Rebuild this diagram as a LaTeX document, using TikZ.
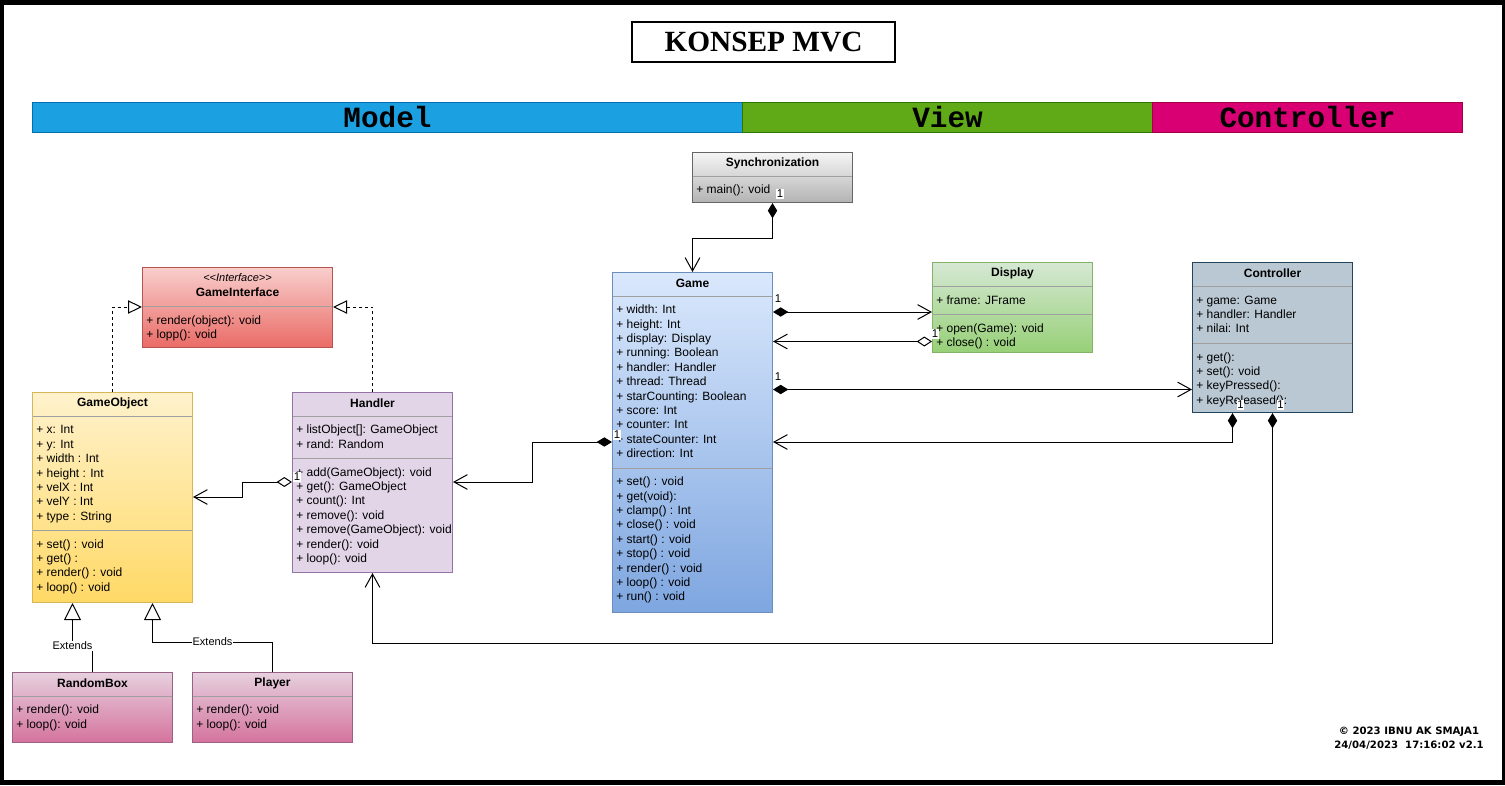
\documentclass[tikz,border=0pt]{standalone}
\usepackage{fontspec}
\setmainfont{Liberation Sans}
\newfontfamily\titlefont{Liberation Serif}
\newfontfamily\bandfont{Liberation Mono}
\newfontfamily\signfont{DejaVu Sans}
\usetikzlibrary{arrows.meta,calc,positioning}

\definecolor{sepgray}{HTML}{A0A0A0}
\definecolor{modelfill}{HTML}{1BA1E2}
\definecolor{modeldraw}{HTML}{006EAF}
\definecolor{viewfill}{HTML}{60A917}
\definecolor{viewdraw}{HTML}{2D7600}
\definecolor{ctrlfill}{HTML}{D80073}
\definecolor{ctrldraw}{HTML}{A50040}
\definecolor{syncTop}{HTML}{F5F5F5}
\definecolor{syncBot}{HTML}{B3B3B3}
\definecolor{syncDraw}{HTML}{666666}
\definecolor{gameTop}{HTML}{DAE8FC}
\definecolor{gameBot}{HTML}{7EA6E0}
\definecolor{gameDraw}{HTML}{6C8EBF}
\definecolor{dispTop}{HTML}{D5E8D4}
\definecolor{dispBot}{HTML}{97D077}
\definecolor{dispDraw}{HTML}{82B366}
\definecolor{ctrlBox}{HTML}{BAC8D3}
\definecolor{ctrlDraw}{HTML}{23445D}
\definecolor{gintTop}{HTML}{F8CECC}
\definecolor{gintBot}{HTML}{EA6B66}
\definecolor{gintDraw}{HTML}{B85450}
\definecolor{gobjTop}{HTML}{FFF2CC}
\definecolor{gobjBot}{HTML}{FFD966}
\definecolor{gobjDraw}{HTML}{D6B656}
\definecolor{handFill}{HTML}{E1D5E7}
\definecolor{handDraw}{HTML}{9673A6}
\definecolor{subTop}{HTML}{E6D0DE}
\definecolor{subBot}{HTML}{D5739D}
\definecolor{subDraw}{HTML}{996185}

\tikzset{
	cls/.style={draw, line width=0.75pt, anchor=north west, minimum width=120pt, inner sep=0pt},
	head/.style={inner sep=0pt, font=\bfseries\fontsize{9}{10}\selectfont},
	member/.style={anchor=west, inner sep=0pt, font=\fontsize{9}{10}\selectfont, text height=6.6pt, text depth=1.9pt},
	sepline/.style={draw=sepgray, line width=0.75pt},
	mult/.style={fill=white, inner sep=0.6pt, font=\fontsize{8.5}{8.5}\selectfont},
	band/.style={draw, line width=0.75pt, anchor=north west, minimum height=22.5pt, inner sep=0pt, font=\bandfont\bfseries\fontsize{22}{22}\selectfont},
	comp/.style={line width=0.75pt, {Diamond[length=11.5pt,width=7pt]}-{Straight Barb[length=10pt,width=11pt]}},
	aggr/.style={line width=0.75pt, {Diamond[fill=white,length=11.5pt,width=7.5pt]}-{Straight Barb[length=10pt,width=11pt]}},
	realize/.style={line width=0.75pt, dash pattern=on 2.25pt off 2.25pt, -{Triangle[fill=white,length=10.5pt,width=10pt]}},
	extend/.style={line width=0.75pt, -{Triangle[fill=white,length=12.75pt,width=12.75pt]}},
	extlabel/.style={fill=white, inner sep=0.6pt, font=\fontsize{8.25}{9}\selectfont},
}

% member lines of a class: node, prefix, first offset, list
\newcommand\members[4]{%
	\foreach \m [count=\i from 0] in {#4}
	\node[member] (#1-#2\i) at ($(#1.north west)+(4,#3+1.5+14.4*\i)$) {\m};}
% separator line of a class
\newcommand\sepat[2]{\draw[sepline] ($(#1.north west)+(1,#2)$) -- ($(#1.north east)+(-1,#2)$);}

\begin{document}
\begin{tikzpicture}[x=0.75pt,y=-0.75pt]
%Rahmen
\path[use as bounding box] (0,0) rectangle (1505,785);
\fill[black] (0,0) rectangle (1505,785);
\fill[white] (4,5) rectangle (1501.5,780);

%Titel
\node[draw, line width=1.2pt, minimum width=197pt, minimum height=30pt, inner sep=0pt, font=\titlefont\bfseries\fontsize{22}{22}\selectfont] (title) at (763.5,42) {KONSEP MVC};
\node[band, fill=modelfill, draw=modeldraw, minimum width=532.5pt] (model) at (32,102) {Model};
\node[band, fill=viewfill, draw=viewdraw, minimum width=307.5pt] (view) at (742,102) {View};
\node[band, fill=ctrlfill, draw=ctrldraw, minimum width=232.5pt] (ctrlband) at (1152,102) {Controller};

%Klassen
\node[cls, top color=syncTop, bottom color=syncBot, draw=syncDraw, minimum height=37.5pt] (sync) at (692,152) {};
\node[head] at ($(sync.north)+(0,11)$) {Synchronization};
\sepat{sync}{24}
\members{sync}{a}{37}{{+ main(): void}}

\node[cls, top color=gameTop, bottom color=gameBot, draw=gameDraw, minimum height=255pt] (game) at (612,272) {};
\node[head] at ($(game.north)+(0,11)$) {Game};
\sepat{game}{24}
\members{game}{a}{37}{{+ width: Int},{+ height: Int},{+ display: Display},{+ running: Boolean},{+ handler: Handler},{+ thread: Thread},{+ starCounting: Boolean},{+ score: Int},{+ counter: Int},{+ stateCounter: Int},{+ direction: Int}}
\sepat{game}{196}
\members{game}{m}{209}{{+ set() : void},{+ get(void):},{+ clamp() : Int},{+ close() : void},{+ start() : void},{+ stop() : void},{+ render() : void},{+ loop() : void},{+ run() : void}}

\node[cls, top color=dispTop, bottom color=dispBot, draw=dispDraw, minimum height=67.5pt] (display) at (932,262) {};
\node[head] at ($(display.north)+(0,11)$) {Display};
\sepat{display}{24}
\members{display}{a}{37.5}{{+ frame: JFrame}}
\sepat{display}{52}
\members{display}{m}{65.5}{{+ open(Game): void},{+ close() : void}}

\node[cls, fill=ctrlBox, draw=ctrlDraw, minimum height=112.5pt] (controller) at (1192,262) {};
\node[head] at ($(controller.north)+(0,11)$) {Controller};
\sepat{controller}{24}
\members{controller}{a}{37.5}{{+ game: Game},{+ handler: Handler},{+ nilai: Int}}
\sepat{controller}{81}
\members{controller}{m}{94.4}{{+ get():},{+ set(): void},{+ keyPressed():},{+ keyReleased():}}

\node[cls, top color=gintTop, bottom color=gintBot, draw=gintDraw, minimum width=142.5pt, minimum height=60pt] (gint) at (142,267) {};
\node[inner sep=0pt, font=\itshape\fontsize{8.25}{9}\selectfont] (gint-st) at ($(gint.north)+(0,11)$) {{<}{<}Interface{>}{>}};
\node[head] at ($(gint.north)+(0,25)$) {GameInterface};
\sepat{gint}{39.5}
\members{gint}{m}{52.7}{{+ render(object): void},{+ lopp(): void}}

\node[cls, top color=gobjTop, bottom color=gobjBot, draw=gobjDraw, minimum height=157.5pt] (gobj) at (32,392) {};
\node[head] at ($(gobj.north)+(0,11)$) {GameObject};
\sepat{gobj}{24}
\members{gobj}{a}{37.3}{{+ x: Int},{+ y: Int},{+ width : Int},{+ height : Int},{+ velX : Int},{+ velY : Int},{+ type : String}}
\sepat{gobj}{138.5}
\members{gobj}{m}{151.5}{{+ set() : void},{+ get() :},{+ render() : void},{+ loop() : void}}

\node[cls, fill=handFill, draw=handDraw, minimum height=135pt] (handler) at (292,392) {};
\node[head] at ($(handler.north)+(0,11)$) {Handler};
\sepat{handler}{24}
\members{handler}{a}{37.3}{{+ listObject[]: GameObject},{+ rand: Random}}
\sepat{handler}{66.5}
\members{handler}{m}{79.5}{{+ add(GameObject): void},{+ get(): GameObject},{+ count(): Int},{+ remove(): void},{+ remove(GameObject): void},{+ render(): void},{+ loop(): void}}

\node[cls, top color=subTop, bottom color=subBot, draw=subDraw, minimum height=52.5pt] (rbox) at (12,672) {};
\node[head] at ($(rbox.north)+(0,11)$) {RandomBox};
\sepat{rbox}{24}
\members{rbox}{m}{37.3}{{+ render(): void},{+ loop(): void}}

\node[cls, top color=subTop, bottom color=subBot, draw=subDraw, minimum height=52.5pt] (player) at (192,672) {};
\node[head] at ($(player.north)+(0,11)$) {Player};
\sepat{player}{24}
\members{player}{m}{37.3}{{+ render(): void},{+ loop(): void}}

%Verbindungen
\draw[comp] (sync.south) -- ++(0,35) -| (game.north);
\draw[comp] ($(game.north east)+(0,40)$) coordinate (gd) -- (gd -| display.west);
\draw[aggr] ($(display.north west)+(0,79.5)$) coordinate (dg) -- (dg -| game.east);
\draw[comp] ($(game.north east)+(0,117.5)$) coordinate (gc) -- (gc -| controller.west);
\draw[comp] ($(controller.south)+(-40,0)$) |- ($(game.north east)+(0,170)$);
\draw[comp] (controller.south) -- ++(0,230) -| (handler.south);
\draw[comp] ($(game.north west)+(0,170)$) -- ++(-80,0) |- ($(handler.north east)+(0,90)$);
\draw[aggr] ($(handler.north west)+(0,90)$) -- ++(-50,0) |- ($(gobj.north east)+(0,105)$);
\draw[realize] (gobj.north) |- ($(gint.north west)+(0,40)$);
\draw[realize] (handler.north) |- ($(gint.north east)+(0,40)$);
\draw[extend] (rbox.north) -- ++(0,-26) -| node[extlabel, pos=0.5] (ext1) {Extends} ($(gobj.south)+(-40,0)$);
\draw[extend] (player.north) -- ++(0,-30) -| node[extlabel, pos=0.25] (ext2) {Extends} ($(gobj.south)+(40,0)$);

%Multiplizitaeten
\node[mult] (m1) at ($(sync.south)+(7.5,-9)$) {1};
\node[mult] (m2) at ($(game.north east)+(5,27)$) {1};
\node[mult] (m3) at ($(display.north west)+(3,72)$) {1};
\node[mult] (m4) at ($(game.north east)+(5,105)$) {1};
\node[mult] (m5) at ($(controller.south)+(-32,-8)$) {1};
\node[mult] (m6) at ($(controller.south)+(8,-8)$) {1};
\node[mult] (m7) at ($(game.north west)+(5,163)$) {1};
\node[mult] (m8) at ($(handler.north west)+(5,85)$) {1};

%Signatur
\node[align=center, inner sep=0pt, font=\signfont\bfseries\fontsize{7.6}{10.5}\selectfont] (sign) at (1409,738) {© 2023 IBNU AK SMAJA1\\24/04/2023\ \ 17:16:02 v2.1};
\end{tikzpicture}
\end{document}
